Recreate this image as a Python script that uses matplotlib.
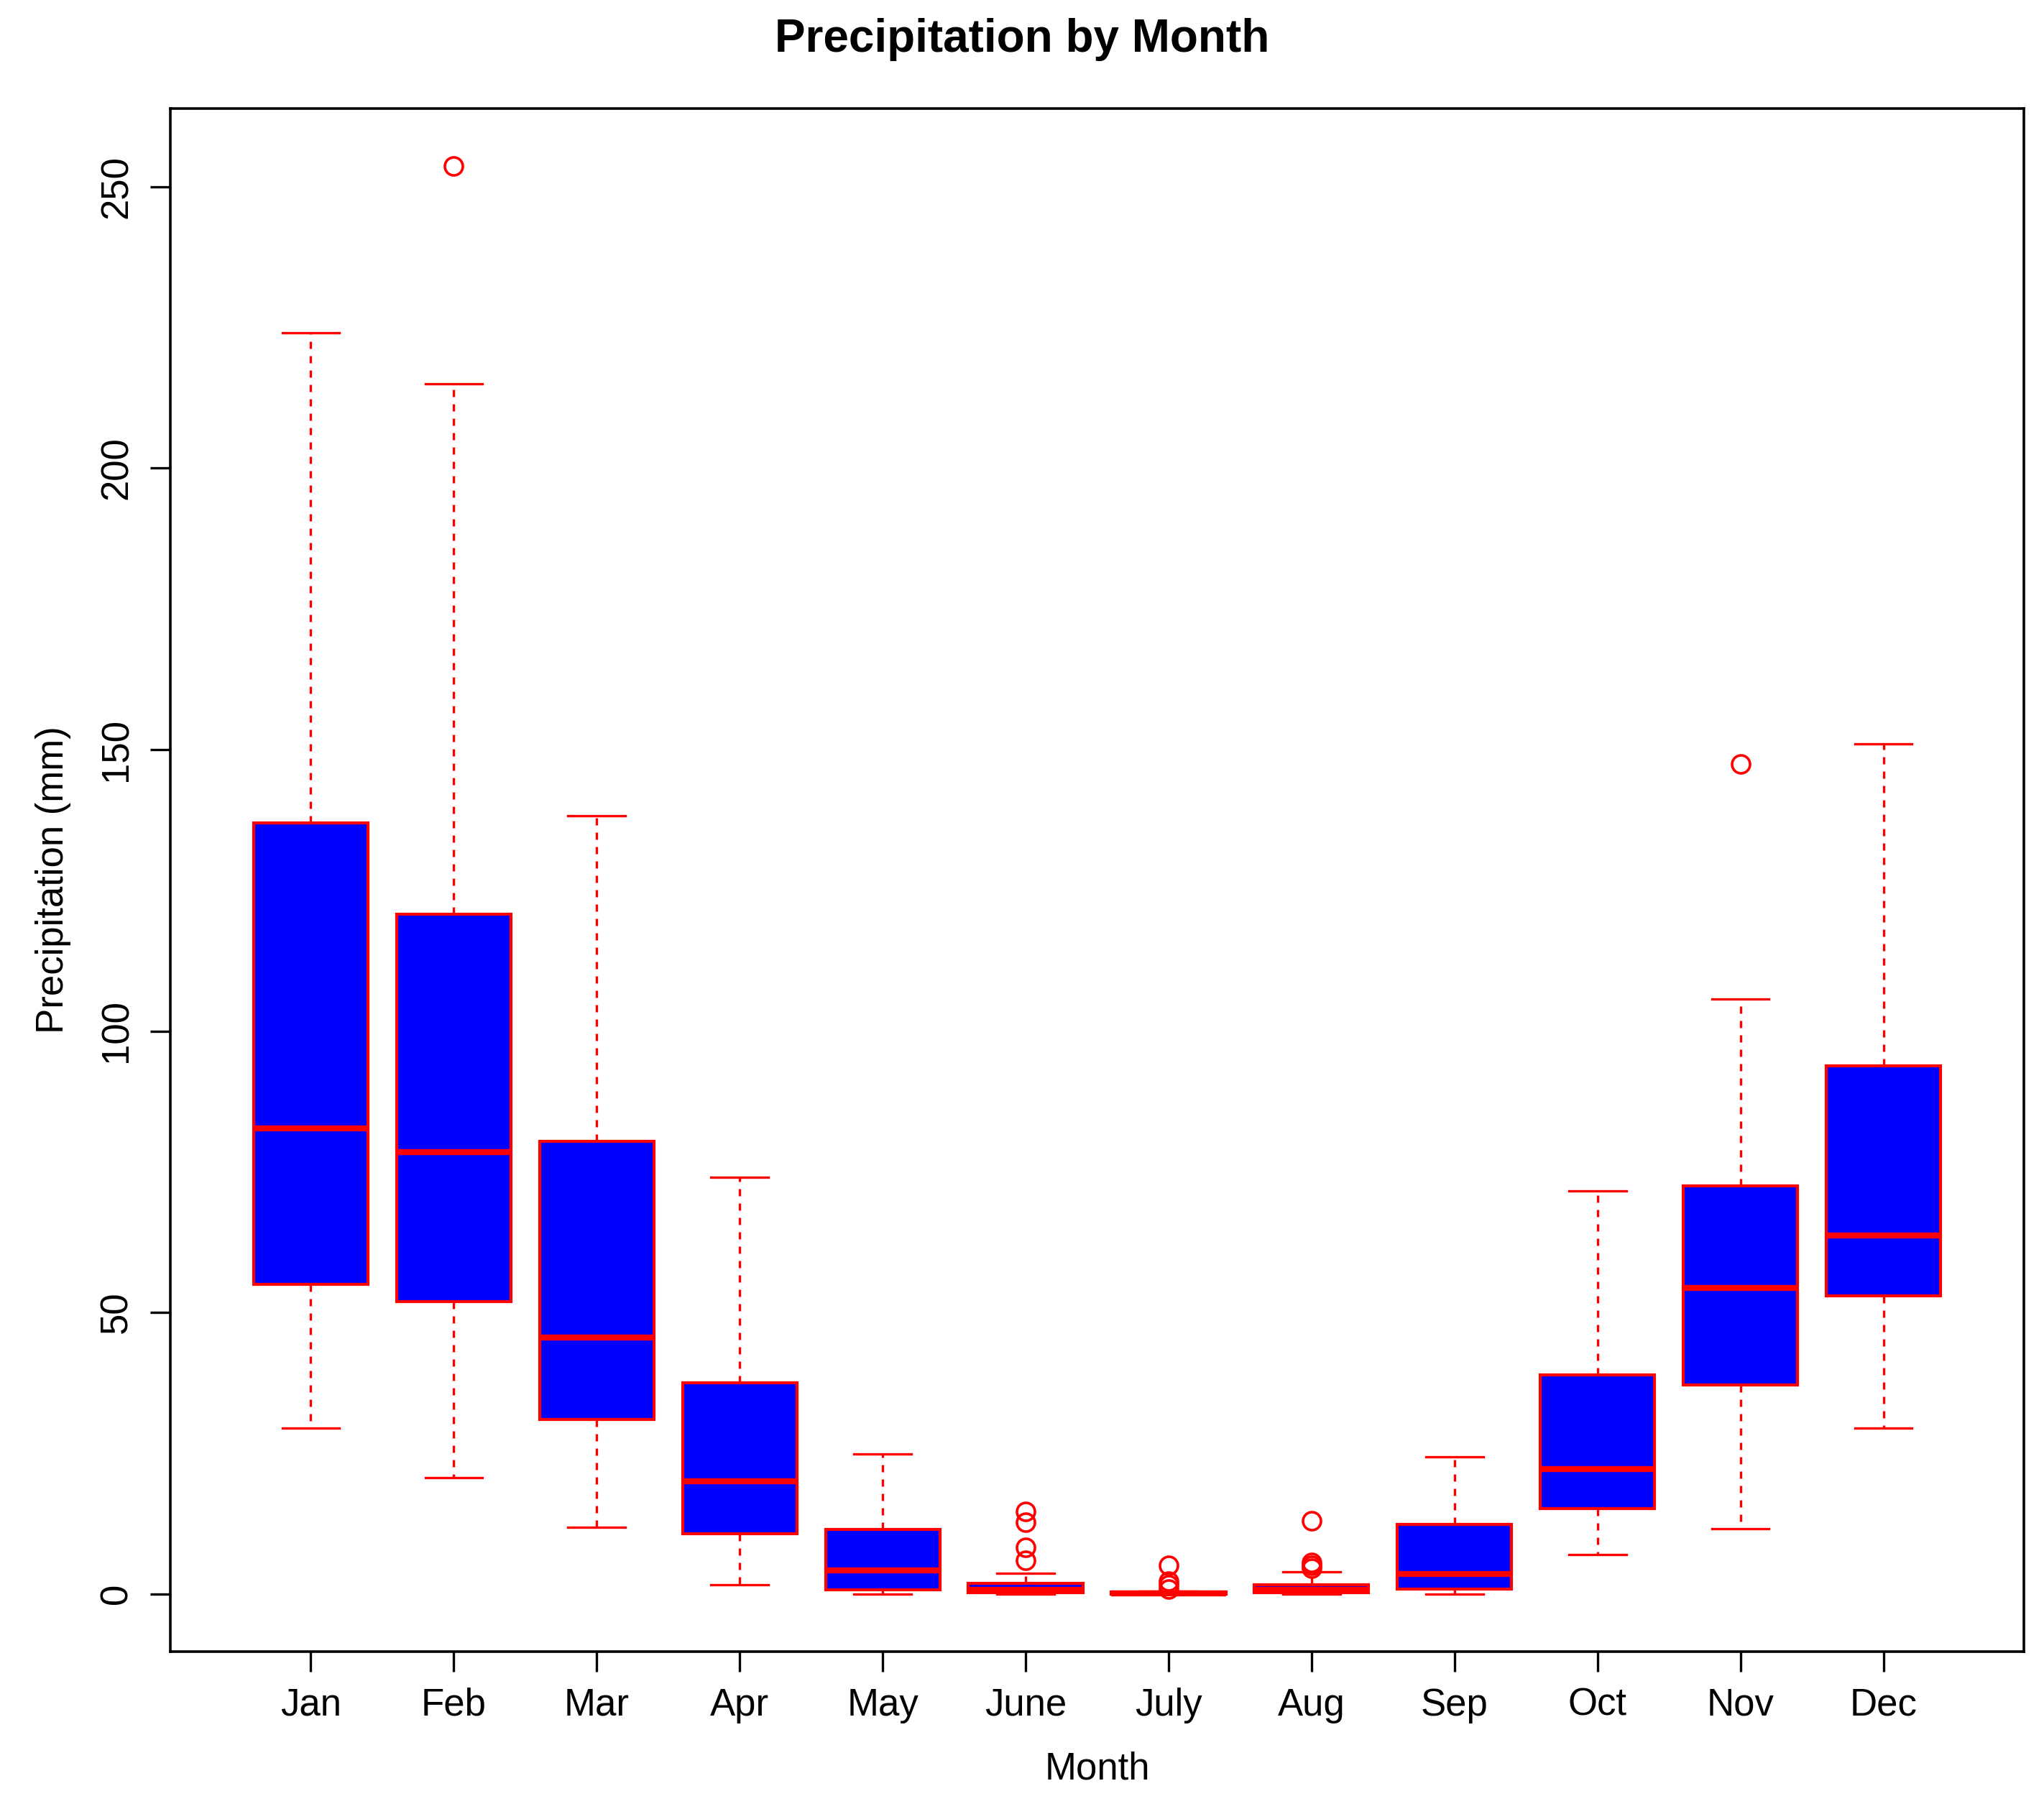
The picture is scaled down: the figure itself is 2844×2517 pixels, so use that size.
import matplotlib
matplotlib.use("Agg")
import matplotlib.pyplot as plt

plt.rcParams['font.family'] = ['Liberation Sans', 'DejaVu Sans']

months = ["Jan", "Feb", "Mar", "Apr", "May", "June", "July", "Aug", "Sep", "Oct", "Nov", "Dec"]
whislo = [29.4, 20.6, 11.8, 1.6, 0.0, 0.0, 0.0, 0.0, 0.0, 7.0, 11.6, 29.4]
q1 = [55.0, 51.9, 31.0, 10.7, 0.7, 0.2, 0.0, 0.2, 0.9, 15.1, 37.1, 53.0]
med = [82.7, 78.5, 45.6, 20.0, 4.2, 0.7, 0.1, 0.7, 3.5, 22.2, 54.4, 63.7]
q3 = [137.0, 120.7, 80.4, 37.5, 11.4, 1.9, 0.3, 1.6, 12.3, 38.9, 72.5, 93.8]
whishi = [224.0, 215.0, 138.3, 74.0, 24.8, 3.7, 0.5, 3.9, 24.3, 71.6, 105.7, 151.0]
fliers = [[], [253.7], [], [], [], [14.6, 12.7, 8.3, 6.0], [5.1, 2.3, 1.6, 0.9],
          [13.0, 5.6, 5.1, 4.6], [], [], [147.4], []]

stats = []
for i, m in enumerate(months):
    stats.append(dict(label=m, whislo=whislo[i], q1=q1[i], med=med[i],
                      q3=q3[i], whishi=whishi[i], fliers=fliers[i]))

fig = plt.figure(figsize=(14.22, 12.585), dpi=200)
ax = fig.add_axes([0.0835, 0.0872, 0.9065, 0.8528])
ax.bxp(stats, positions=range(1, 13), widths=0.8, patch_artist=True,
       boxprops=dict(facecolor="blue", edgecolor="red", linewidth=1.5),
       medianprops=dict(color="red", linewidth=3),
       whiskerprops=dict(color="red", linestyle=(0, (3, 3)), linewidth=1.2),
       capprops=dict(color="red", linewidth=1.2),
       flierprops=dict(marker="o", markerfacecolor="none", markeredgecolor="red",
                       markersize=9, markeredgewidth=1.3),
       capwidths=0.4)

ax.set_xlim(0.02, 12.98)
ax.set_ylim(-10.2, 263.9)
ax.set_yticks([0, 50, 100, 150, 200, 250])
ax.set_yticklabels(["0", "50", "100", "150", "200", "250"], rotation=90, va="center")
ax.tick_params(labelsize=19, length=10, width=1.2, pad=8)
for s in ax.spines.values():
    s.set_linewidth(1.3)
ax.set_xlabel("Month", fontsize=19, labelpad=14)
ax.set_ylabel("Precipitation (mm)", fontsize=19, labelpad=14)
fig.suptitle("Precipitation by Month", fontsize=23, fontweight="bold", y=0.99)

fig.savefig("out.png", dpi=200)
